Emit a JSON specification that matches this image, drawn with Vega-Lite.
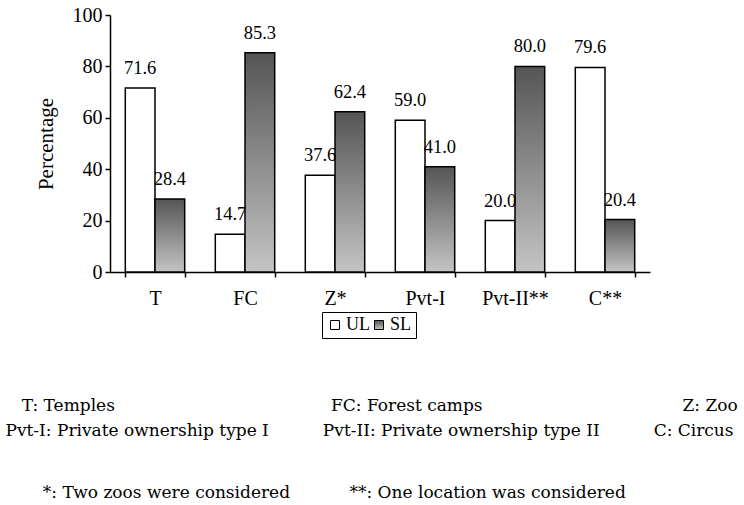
{
  "$schema": "https://vega.github.io/schema/vega-lite/v6.json",
  "width": 540,
  "height": 257,
  "autosize": {"type": "pad"},
  "padding": {"left": 5, "top": 5, "right": 0, "bottom": 0},
  "background": "white",
  "config": {
    "view": {"stroke": null},
    "font": "Liberation Serif",
    "style": {
      "guide-label": {"font": "Liberation Serif", "fill": "black"},
      "guide-title": {"font": "Liberation Serif", "fill": "black"},
      "group-title": {"font": "DejaVu Serif", "fill": "black"}
    },
    "legend": {"labelFont": "Liberation Serif"},
    "title": {"font": "DejaVu Serif"},
    "axis": {
      "grid": false,
      "domainColor": "black",
      "domainWidth": 1.5,
      "tickColor": "black",
      "tickWidth": 1.5,
      "tickSize": 5,
      "labelColor": "black",
      "titleColor": "black",
      "labelFont": "Liberation Serif",
      "titleFont": "Liberation Serif"
    }
  },
  "title": {
    "text": "\u200b\u00a0\u00a0\u00a0\u00a0\u00a0\u00a0\u00a0*: Two zoos were considered\u00a0\u00a0\u00a0\u00a0\u00a0\u00a0\u00a0\u00a0\u00a0\u00a0\u00a0**: One location was considered",
    "orient": "bottom",
    "anchor": "start",
    "frame": "group",
    "align": "left",
    "dx": -105,
    "offset": 47,
    "font": "DejaVu Serif",
    "fontSize": 17,
    "fontWeight": "normal",
    "color": "black"
  },
  "data": {
    "values": [
      {"site": "T", "type": "UL", "pct": 71.6},
      {"site": "T", "type": "SL", "pct": 28.4},
      {"site": "FC", "type": "UL", "pct": 14.7},
      {"site": "FC", "type": "SL", "pct": 85.3},
      {"site": "Z*", "type": "UL", "pct": 37.6},
      {"site": "Z*", "type": "SL", "pct": 62.4},
      {"site": "Pvt-I", "type": "UL", "pct": 59.0},
      {"site": "Pvt-I", "type": "SL", "pct": 41.0},
      {"site": "Pvt-II**", "type": "UL", "pct": 20.0},
      {"site": "Pvt-II**", "type": "SL", "pct": 80.0},
      {"site": "C**", "type": "UL", "pct": 79.6},
      {"site": "C**", "type": "SL", "pct": 20.4}
    ]
  },
  "encoding": {
    "x": {
      "field": "site",
      "type": "nominal",
      "sort": ["T", "FC", "Z*", "Pvt-I", "Pvt-II**", "C**"],
      "scale": {"paddingInner": 0.34, "paddingOuter": 0.17},
      "axis": {
        "title": [
          "\u200b\u00a0\u00a0\u00a0T: Temples\u00a0\u00a0\u00a0\u00a0\u00a0\u00a0\u00a0\u00a0\u00a0\u00a0\u00a0\u00a0\u00a0\u00a0\u00a0\u00a0\u00a0\u00a0\u00a0\u00a0\u00a0\u00a0\u00a0\u00a0\u00a0\u00a0\u00a0\u00a0\u00a0\u00a0\u00a0\u00a0\u00a0\u00a0\u00a0\u00a0\u00a0\u00a0\u00a0\u00a0FC: Forest camps\u00a0\u00a0\u00a0\u00a0\u00a0\u00a0\u00a0\u00a0\u00a0\u00a0\u00a0\u00a0\u00a0\u00a0\u00a0\u00a0\u00a0\u00a0\u00a0\u00a0\u00a0\u00a0\u00a0\u00a0\u00a0\u00a0\u00a0\u00a0\u00a0\u00a0\u00a0\u00a0\u00a0\u00a0\u00a0\u00a0\u00a0Z: Zoo",
          "Pvt-I: Private ownership type I\u00a0\u00a0\u00a0\u00a0\u00a0\u00a0\u00a0\u00a0\u00a0\u00a0Pvt-II: Private ownership type II\u00a0\u00a0\u00a0\u00a0\u00a0\u00a0\u00a0\u00a0\u00a0\u00a0C: Circus"
        ],
        "titleAnchor": "start",
        "titleAlign": "left",
        "titleBaseline": "alphabetic",
        "titleX": -105,
        "titleY": 138,
        "titleFont": "DejaVu Serif",
        "titleFontSize": 17,
        "titleFontWeight": "normal",
        "titleLineHeight": 25,
        "labelAngle": 0,
        "tickBand": "extent",
        "labelPadding": 11,
        "labelFontSize": 20,
        "labelFont": "Liberation Serif"
      }
    },
    "xOffset": {"field": "type", "type": "nominal", "sort": ["UL", "SL"]},
    "y": {
      "field": "pct",
      "type": "quantitative",
      "scale": {"domain": [0, 100]},
      "axis": {
        "title": "Percentage",
        "values": [0, 20, 40, 60, 80, 100],
        "labelPadding": 3,
        "labelFontSize": 20,
        "labelFont": "Liberation Serif",
        "titleFont": "Liberation Serif",
        "titleFontSize": 21,
        "titleFontWeight": "normal",
        "titlePadding": 16
      }
    }
  },
  "layer": [
    {
      "mark": {"type": "bar", "stroke": "black", "strokeWidth": 1.5},
      "encoding": {
        "fill": {
          "field": "type",
          "type": "nominal",
          "scale": {
            "domain": ["UL", "SL"],
            "range": [
              "white",
              {"expr": "{gradient: 'linear', x1: 0, y1: 0, x2: 0, y2: 1, stops: [{offset: 0, color: '#555555'}, {offset: 1, color: '#c4c4c4'}]}"}
            ]
          },
          "legend": {
            "orient": "none",
            "legendX": 212,
            "legendY": 297,
            "direction": "horizontal",
            "title": null,
            "strokeColor": "black",
            "padding": 4,
            "labelFontSize": 18,
            "labelFont": "Liberation Serif",
            "labelColor": "black",
            "symbolType": "square",
            "symbolSize": 81,
            "symbolStrokeColor": "black",
            "symbolStrokeWidth": 1,
            "symbolOpacity": 1,
            "columnPadding": 0,
            "labelOffset": 2
          }
        }
      }
    },
    {
      "mark": {"type": "text", "baseline": "alphabetic", "dy": -14, "fontSize": 18.5, "color": "black", "font": "Liberation Serif"},
      "encoding": {
        "text": {"field": "pct", "type": "quantitative", "format": ".1f"}
      }
    }
  ]
}
